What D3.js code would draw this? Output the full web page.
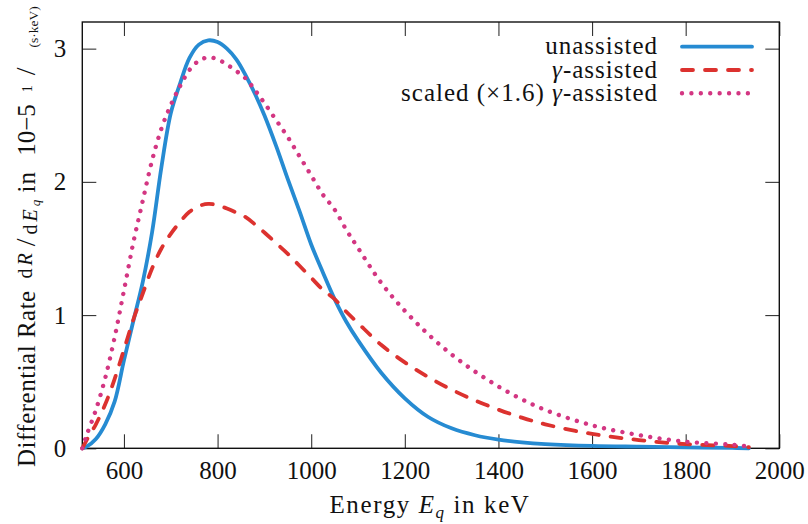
<!DOCTYPE html>
<html>
<head>
<meta charset="utf-8">
<script src="https://cdn.jsdelivr.net/npm/d3@7"></script>
<style>
  body { margin: 0; background: #fff; }
  svg text { font-family: "Liberation Serif", serif; fill: #111; }
</style>
</head>
<body>
<div id="chart"></div>
<script>
// energies in keV
const energy = [511, 520, 540, 560, 580, 600, 620, 640, 660, 680, 700, 720, 740, 760, 780, 800,
    820, 840, 860, 880, 900, 925, 950, 975, 1000, 1025, 1050, 1075, 1100, 1150, 1200, 1250,
    1300, 1350, 1400, 1450, 1500, 1600, 1700, 1800, 1900, 1935];

// differential rate in 1e-5 1/(s keV)
const unassisted = [0, 0.012, 0.07, 0.18, 0.35, 0.66, 0.955, 1.245, 1.62, 2.11, 2.515, 2.74, 2.93, 3.03, 3.062, 3.05,
    3.0, 2.92, 2.8, 2.66, 2.5, 2.27, 2.02, 1.78, 1.53, 1.32, 1.12, 0.95, 0.81, 0.565, 0.375, 0.235,
    0.15, 0.098, 0.065, 0.045, 0.032, 0.018, 0.012, 0.007, 0.003, 0];

const gammaAssisted = [0, 0.06, 0.18, 0.33, 0.52, 0.74, 0.965, 1.16, 1.35, 1.5, 1.61, 1.7, 1.775, 1.818, 1.834, 1.825,
    1.8, 1.77, 1.735, 1.68, 1.62, 1.54, 1.46, 1.37, 1.28, 1.19, 1.12, 1.025, 0.94, 0.775, 0.645, 0.535,
    0.44, 0.36, 0.29, 0.23, 0.18, 0.108, 0.062, 0.031, 0.017, 0.008];

const SCALE = 1.6;
const scaledAssisted = gammaAssisted.map(v => v * SCALE);

const xTicks = [600, 800, 1000, 1200, 1400, 1600, 1800, 2000];
const yTicks = [0, 1, 2, 3];

const W = 808, H = 524;
const plotLeft = 82.3, plotRight = 779.3, plotTop = 22, plotBottom = 448.3;

var svg = d3.select("#chart")
    .append("svg")
    .attr("width", W)
    .attr("height", H);

let x = d3.scaleLinear().domain([511, 2000]).range([plotLeft, plotRight]);
let y = d3.scaleLinear().domain([0, 3.2]).range([plotBottom, plotTop]);

// ticks, pointing inward on all four sides
function styleAxis(g) {
    g.attr("font-family", null);
    g.select(".domain").remove();
    g.selectAll(".tick line").attr("stroke", "#333").attr("stroke-width", 1.1);
    g.selectAll(".tick text")
        .attr("font-family", "Liberation Serif")
        .attr("font-size", 25)
        .attr("fill", "#111");
}

svg.append("g")
    .attr("transform", `translate(0,${plotBottom})`)
    .call(d3.axisBottom(x).tickValues(xTicks).tickSize(-14).tickSizeOuter(0).tickPadding(13).tickFormat(d3.format("d")))
    .call(styleAxis);

svg.append("g")
    .attr("transform", `translate(0,${plotTop})`)
    .call(d3.axisTop(x).tickValues(xTicks).tickSize(-14).tickSizeOuter(0).tickFormat(""))
    .call(styleAxis);

svg.append("g")
    .attr("transform", `translate(${plotLeft},0)`)
    .call(d3.axisLeft(y).tickValues(yTicks).tickSize(-14).tickSizeOuter(0).tickPadding(16).tickFormat(d3.format("d")))
    .call(styleAxis);

svg.append("g")
    .attr("transform", `translate(${plotRight},0)`)
    .call(d3.axisRight(y).tickValues(yTicks).tickSize(-14).tickSizeOuter(0).tickFormat(""))
    .call(styleAxis);

svg.append("rect")
    .attr("x", plotLeft)
    .attr("y", plotTop)
    .attr("width", plotRight - plotLeft)
    .attr("height", plotBottom - plotTop)
    .attr("fill", "none")
    .attr("stroke", "#111")
    .attr("stroke-width", 1.4);

// curves
const series = [
    { name: "unassisted", values: unassisted, color: "#268bd2", width: 3.8, dash: null },
    { name: "gamma", values: gammaAssisted, color: "#dc322f", width: 3.8, dash: "11 12" },
    { name: "scaled", values: scaledAssisted, color: "#d33682", width: 4.4, dash: "0.01 9.4" },
];

let line = d3.line()
    .x(d => x(d[0]))
    .y(d => y(d[1]))
    .curve(d3.curveCatmullRom.alpha(0.5));

series.forEach(s => {
    svg.append("path")
        .datum(energy.map((e, i) => [e, s.values[i]]))
        .attr("fill", "none")
        .attr("stroke", s.color)
        .attr("stroke-width", s.width)
        .attr("stroke-linecap", "round")
        .attr("stroke-linejoin", "round")
        .attr("stroke-dasharray", s.dash)
        .attr("d", line);
});

// helper: text made of pieces with their own size, style, gap and baseline offset
function richText(sel, pieces) {
    let prev = 0;
    pieces.forEach(p => {
        let off = p.off || 0;
        let ts = sel.append("tspan")
            .attr("font-size", p.size || 25)
            .attr("font-style", p.italic ? "italic" : "normal")
            .text(p.t);
        if (off !== prev) ts.attr("dy", off - prev);
        if (p.dx) ts.attr("dx", p.dx);
        if (p.ls) ts.attr("letter-spacing", p.ls);
        prev = off;
    });
}

// legend: each piece its own text, laid out from the right edge
const legendRows = [
    [{ t: "unassisted" }],
    [{ t: "γ", italic: true }, { t: "-assisted" }],
    [{ t: "scaled (×1.6) " }, { t: "γ", italic: true }, { t: "-assisted" }],
];

legendRows.forEach((row, i) => {
    let ly = 46.7 + i * 23.3;
    let cursor = 658;
    row.slice().reverse().forEach(p => {
        let t = svg.append("text")
            .attr("x", cursor)
            .attr("y", ly + 7.5)
            .attr("text-anchor", "end")
            .attr("font-size", 25)
            .attr("letter-spacing", 1)
            .attr("font-style", p.italic ? "italic" : "normal")
            .style("white-space", "pre")
            .text(p.t);
        cursor -= t.node().getComputedTextLength();
    });
    svg.append("line")
        .attr("x1", 682)
        .attr("x2", 752)
        .attr("y1", ly)
        .attr("y2", ly)
        .attr("stroke", series[i].color)
        .attr("stroke-width", series[i].width)
        .attr("stroke-linecap", "round")
        .attr("stroke-dasharray", series[i].dash);
});

// x axis title
let xt = svg.append("text")
    .attr("x", 430)
    .attr("y", 513)
    .attr("text-anchor", "middle")
    .attr("letter-spacing", 1.6);
richText(xt, [
    { t: "Energy " },
    { t: "E", italic: true },
    { t: "q", italic: true, size: 17, off: 5 },
    { t: " in keV" },
]);

// y axis title
let yt = svg.append("text")
    .attr("transform", "translate(35,467) rotate(-90)");
richText(yt, [
    { t: "Differential Rate ", ls: 0.5 },
    { t: "d", size: 20, off: -3, dx: 5, ls: 3 },
    { t: "R", size: 20, italic: true, off: -3, ls: 3 },
    { t: "/", size: 28, off: 0, dx: 4 },
    { t: "d", size: 20, off: 2, dx: 4, ls: 3 },
    { t: "E", size: 20, italic: true, off: 2, ls: 3 },
    { t: "q", size: 13, italic: true, off: 5 },
    { t: " in ", off: 0, ls: 1 },
    { t: "10−5", dx: 8 },
    { t: "1", size: 14, off: -3, dx: 12 },
    { t: "/", size: 28, off: 0, dx: 10 },
    { t: "(s·keV)", size: 13.5, off: 3, dx: 20 },
]);
</script>
</body>
</html>
